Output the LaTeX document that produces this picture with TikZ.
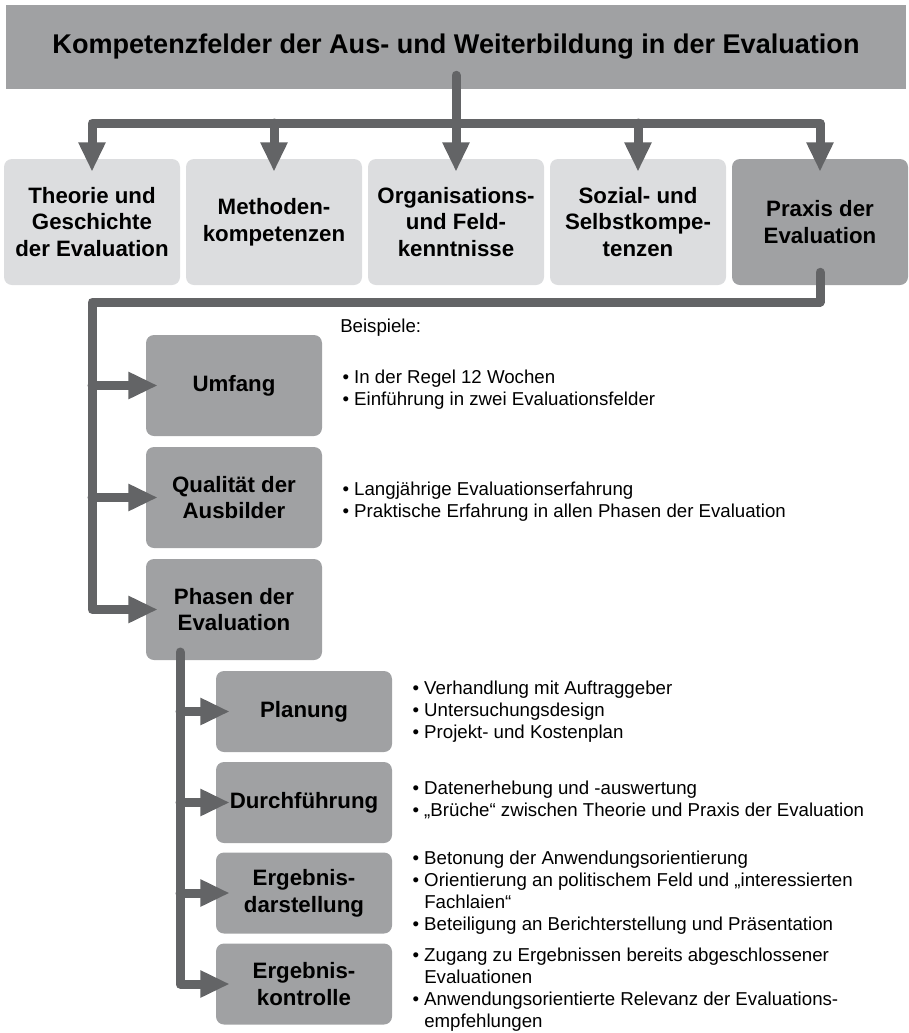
\documentclass[tikz,border=0pt]{standalone}
\usepackage{fontspec}
\setmainfont{Liberation Sans}
\usetikzlibrary{arrows.meta,positioning}
\definecolor{headgray}{RGB}{160,161,163}
\definecolor{boxlight}{RGB}{220,221,223}
\definecolor{linegray}{RGB}{99,100,102}
\newcommand{\bul}{\textbullet\ }
\newcommand{\ind}{\hphantom{\textbullet\ }}

\begin{document}
\begin{tikzpicture}[x=0.75pt,y=-0.75pt,
    conn/.style={draw=linegray,line width=6.75pt,line join=round,line cap=round,-{Triangle[width=19pt,length=22pt]}},
    fieldbox/.style={fill=boxlight,rounded corners=6pt,minimum width=132pt,minimum height=94.5pt,align=center,inner sep=2pt,font=\bfseries\fontsize{16.7}{20}\selectfont},
    stagebox/.style={fill=headgray,rounded corners=6pt,minimum width=132pt,minimum height=75.75pt,align=center,inner sep=2pt,font=\bfseries\fontsize{16.7}{20}\selectfont},
    phasebox/.style={stagebox,minimum height=60.75pt},
    note/.style={anchor=west,align=left,inner sep=0pt,font=\fontsize{14}{16.5}\selectfont}]
    \useasboundingbox (0,0) rectangle (909,1033);

    % header
    \node[fill=headgray,minimum width=675pt,minimum height=63pt,font=\bfseries\fontsize{20.3}{24}\selectfont] (head) at (456,47)
        {Kompetenzfelder der Aus- und Weiterbildung in der Evaluation};

    % fields
    \node[fieldbox] (theorie) at (92,222) {Theorie und\\Geschichte\\der Evaluation};
    \node[fieldbox] (methoden) at (274,222) {Methoden-\\kompetenzen};
    \node[fieldbox] (organisation) at (456,222) {Organisations-\\und Feld-\\kenntnisse};
    \node[fieldbox] (sozial) at (638,222) {Sozial- und\\Selbstkompe-\\tenzen};
    \node[fieldbox,fill=headgray] (praxis) at (820,222) {Praxis der\\Evaluation};

    \coordinate (bar) at (456,123);
    \draw[conn] ([yshift=10.5pt]head.south) -- ([yshift=-9.75pt]organisation.north);
    \draw[conn] (bar) -| ([yshift=-9.75pt]theorie.north);
    \draw[conn] (bar) -| ([yshift=-9.75pt]praxis.north);
    \draw[conn] (bar -| methoden) -- ([yshift=-9.75pt]methoden.north);
    \draw[conn] (bar -| sozial) -- ([yshift=-9.75pt]sozial.north);

    % praxis
    \node[stagebox] (umfang) at (234,385.5) {Umfang};
    \node[stagebox] (qualitaet) at (234,497.5) {Qualität der\\Ausbilder};
    \node[stagebox] (phasen) at (234,609.5) {Phasen der\\Evaluation};

    \coordinate (turn) at (92,302);
    \draw[conn] ([yshift=9.75pt]praxis.south) |- (turn) |- ([xshift=9pt]phasen.west);
    \draw[conn] (turn |- umfang) -- ([xshift=9pt]umfang.west);
    \draw[conn] (turn |- qualitaet) -- ([xshift=9pt]qualitaet.west);

    \node[note] (beispiele) at (340,328) {Beispiele:};
    \node[note] (umfangtxt) at ([xshift=15pt,yshift=-3pt]umfang.east)
        {\bul In der Regel 12 Wochen\\\bul Einführung in zwei Evaluationsfelder};
    \node[note] (qualitaettxt) at ([xshift=15pt,yshift=-3pt]qualitaet.east)
        {\bul Langjährige Evaluationserfahrung\\\bul Praktische Erfahrung in allen Phasen der Evaluation};

    % phasen
    \node[phasebox] (planung) at (304,711.5) {Planung};
    \node[phasebox] (durchfuehrung) at (304,802.5) {Durchführung};
    \node[phasebox] (darstellung) at (304,893) {Ergebnis-\\darstellung};
    \node[phasebox] (kontrolle) at (304,984) {Ergebnis-\\kontrolle};

    \coordinate (stem) at (180,652);
    \draw[conn] (stem) |- ([xshift=10.5pt]kontrolle.west);
    \draw[conn] (stem |- planung) -- ([xshift=10.5pt]planung.west);
    \draw[conn] (stem |- durchfuehrung) -- ([xshift=10.5pt]durchfuehrung.west);
    \draw[conn] (stem |- darstellung) -- ([xshift=10.5pt]darstellung.west);

    \node[note] (planungtxt) at ([xshift=15pt]planung.east)
        {\bul Verhandlung mit Auftraggeber\\\bul Untersuchungsdesign\\\bul Projekt- und Kostenplan};
    \node[note] (durchfuehrungtxt) at ([xshift=15pt,yshift=2pt]durchfuehrung.east)
        {\bul Datenerhebung und -auswertung\\\bul „Brüche“ zwischen Theorie und Praxis der Evaluation};
    \node[note] (darstellungtxt) at ([xshift=15pt]darstellung.east)
        {\bul Betonung der Anwendungsorientierung\\\bul Orientierung an politischem Feld und „interessierten\\\ind Fachlaien“\\\bul Beteiligung an Berichterstellung und Präsentation};
    \node[note] (kontrolletxt) at ([xshift=15pt,yshift=-4pt]kontrolle.east)
        {\bul Zugang zu Ergebnissen bereits abgeschlossener\\\ind Evaluationen\\\bul Anwendungsorientierte Relevanz der Evaluations-\\\ind empfehlungen};
\end{tikzpicture}
\end{document}
